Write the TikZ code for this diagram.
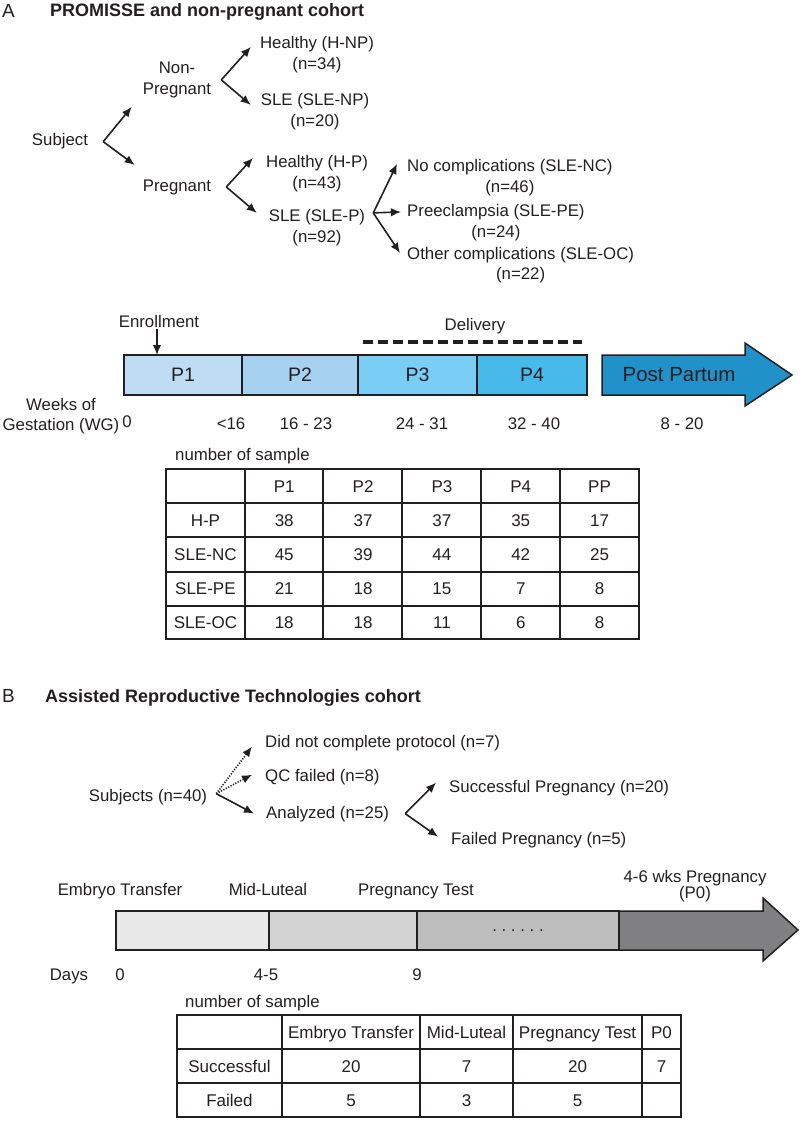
\documentclass[tikz,border=0pt]{standalone}
\usepackage{fontspec}
\setmainfont{Liberation Sans}
\usetikzlibrary{arrows.meta,positioning}

\definecolor{ink}{HTML}{231F20}
\definecolor{pone}{RGB}{190,221,244}
\definecolor{ptwo}{RGB}{166,209,241}
\definecolor{pthree}{RGB}{122,206,245}
\definecolor{pfour}{RGB}{72,186,234}
\definecolor{ppart}{RGB}{32,146,201}
\definecolor{gone}{RGB}{232,232,233}
\definecolor{gtwo}{RGB}{211,211,212}
\definecolor{gthree}{RGB}{189,189,190}
\definecolor{gfour}{RGB}{128,128,130}

\begin{document}
\begin{tikzpicture}
	[
		x=1pt, y=-1pt,
		every node/.style={text=ink, inner sep=2pt},
		txt/.style={font=\fontsize{16.8}{20.5}\selectfont, align=center},
		ttl/.style={font=\fontsize{18}{21}\selectfont\bfseries, anchor=base west},
		panel/.style={font=\fontsize{19}{22}\selectfont, anchor=base west, inner sep=0pt},
		cell/.style={font=\fontsize{17}{20}\selectfont, text height=12.2pt, text depth=0pt},
		seg/.style={draw=ink, line width=1.5pt, minimum height=40pt, inner sep=0pt, outer sep=0pt, font=\fontsize{19.5}{22}\selectfont},
		arrow/.style={-{Latex[length=10pt,width=8.5pt]}, line width=1.6pt, draw=ink},
		dotarrow/.style={arrow, dash pattern=on 1.2pt off 1.5pt},
		tab/.style={draw=ink, line width=1.8pt}
	]
	\useasboundingbox (0,0) rectangle (800,1121);

	% panel A
	\node[panel] (lblA) at (2,18) {A};
	\node[ttl] (ttlA) at (48,17) {PROMISSE and non-pregnant cohort};

	% tree A
	\node[txt, anchor=base] (subj) at (60,146) {Subject};
	\node[txt] (nonpreg) at (177,79.9) {Non-\\Pregnant};
	\node[txt, anchor=base] (preg) at (177,191) {Pregnant};
	\node[txt] (hnp) at (317,54.9) {Healthy (H-NP)\\(n=34)};
	\node[txt] (slenp) at (315,111.9) {SLE (SLE-NP)\\(n=20)};
	\node[txt] (hp) at (317,173.9) {Healthy (H-P)\\(n=43)};
	\node[txt] (slep) at (317,227.9) {SLE (SLE-P)\\(n=92)};
	\node[txt, anchor=west] (slenc) at (405,177.9) {No complications (SLE-NC)\\(n=46)};
	\node[txt, anchor=west] (slepe) at (405,222.9) {Preeclampsia (SLE-PE)\\(n=24)};
	\node[txt, anchor=west] (sleoc) at (405,264.9) {Other complications (SLE-OC)\\(n=22)};

	\coordinate (vsubj) at ([xshift=13pt]subj.east);
	\coordinate (vnonpreg) at ([xshift=8pt]nonpreg.east);
	\coordinate (vpreg) at ([xshift=13pt]preg.east);
	\coordinate (vslep) at ([xshift=6pt,yshift=15pt]slep.east);

	\draw[arrow] (vsubj) -- ([xshift=-9pt,yshift=-27pt]nonpreg.west);
	\draw[arrow] (vsubj) -- ([xshift=-6pt,yshift=22pt]preg.west);
	\draw[arrow] (vnonpreg) -- ([xshift=-7pt,yshift=8pt]hnp.west);
	\draw[arrow] (vnonpreg) -- ([xshift=-8pt,yshift=7pt]slenp.west);
	\draw[arrow] (vpreg) -- ([xshift=-11pt,yshift=16pt]hp.west);
	\draw[arrow] (vpreg) -- ([xshift=-10pt,yshift=15pt]slep.west);
	\draw[arrow] (vslep) -- ([xshift=-8pt,yshift=14pt]slenc.west);
	\draw[arrow] (vslep) -- ([xshift=-4pt,yshift=11pt]slepe.west);
	\draw[arrow] (vslep) -- ([xshift=-5pt,yshift=12pt]sleoc.west);

	% timeline A
	\node[txt, anchor=base] (enroll) at (159,327) {Enrollment};
	\node[seg, fill=pone, minimum width=118pt] (p1) at (183,375) {P1};
	\node[seg, fill=ptwo, minimum width=116pt, right=0pt of p1] (p2) {P2};
	\node[seg, fill=pthree, minimum width=119pt, right=0pt of p2] (p3) {P3};
	\node[seg, fill=pfour, minimum width=110pt, right=0pt of p3] (p4) {P4};
	\draw[arrow] ([xshift=-2pt]enroll.south) -- ([xshift=-2pt]enroll.south |- p1.north);

	\draw[ink, line width=3.5pt, dash pattern=on 10pt off 5pt] ([xshift=5pt,yshift=13pt]p3.north west) -- ([xshift=-5pt,yshift=13pt]p4.north east);
	\node[txt, anchor=base] (deliv) at (475,330) {Delivery};

	\draw[ink, line width=1.5pt, fill=ppart] (602,355) -- (745,355) -- (745,343) -- (792,375) -- (745,406) -- (745,395) -- (602,395) -- cycle;
	\node[font=\fontsize{20.5}{24}\selectfont] (pp) at (679,375) {Post Partum};

	\node[txt] (wg) at (61,415.9) {Weeks of\\Gestation (WG)};
	\node[txt, anchor=base] (wk0) at (127,427) {0};
	\node[txt, anchor=base] (wk1) at (231,429) {<16};
	\node[txt, anchor=base] (wk2) at (306,429) {16 - 23};
	\node[txt, anchor=base] (wk3) at (422,429) {24 - 31};
	\node[txt, anchor=base] (wk4) at (534,429) {32 - 40};
	\node[txt, anchor=base] (wk5) at (682,429) {8 - 20};

	% table A
	\node[txt, anchor=base west] (nsA) at (173,460) {number of sample};
	\draw[tab] (166,469) rectangle (639,639);
	\foreach \x in {245,323,402,481,560}
	\draw[tab] (\x,469) -- (\x,639);
	\foreach \y in {503,537,572,606}
	\draw[tab] (166,\y) -- (639,\y);
	\foreach \lab [count=\c] in {P1,P2,P3,P4,PP}
	\node[cell] (ta-0-\c) at ({166+78.83*(\c+0.5)},486) {\lab};
	\foreach \lab/\va/\vb/\vc/\vd/\ve [count=\r] in {H-P/38/37/37/35/17, SLE-NC/45/39/44/42/25, SLE-PE/21/18/15/7/8, SLE-OC/18/18/11/6/8}
	{
		\node[cell] (ta-\r-0) at (205.4,{469+34*(\r-0.5)+34}) {\lab};
		\foreach \v [count=\c] in {\va,\vb,\vc,\vd,\ve}
		\node[cell] (ta-\r-\c) at ({166+78.83*(\c+0.5)},{469+34*(\r-0.5)+34}) {\v};
	}

	% panel B
	\node[panel] (lblB) at (2,702) {B};
	\node[ttl] (ttlB) at (43,702) {Assisted Reproductive Technologies cohort};

	% tree B
	\node[txt, anchor=base] (subjs) at (148,801) {Subjects (n=40)};
	\node[txt, anchor=base west] (dnc) at (263,747) {Did not complete protocol (n=7)};
	\node[txt, anchor=base west] (qc) at (263,781) {QC failed (n=8)};
	\node[txt, anchor=base west] (anal) at (264,818) {Analyzed (n=25)};
	\node[txt, anchor=base west] (succ) at (447,792) {Successful Pregnancy (n=20)};
	\node[txt, anchor=base west] (fail) at (449,844) {Failed Pregnancy (n=5)};

	\coordinate (vsubjs) at ([xshift=7pt,yshift=3pt]subjs.east);
	\coordinate (vanal) at ([xshift=14pt]anal.east);

	\draw[dotarrow] (vsubjs) -- ([xshift=-11pt,yshift=-4pt]dnc.west);
	\draw[dotarrow] (vsubjs) -- ([xshift=-11pt,yshift=2pt]qc.west);
	\draw[arrow] (vsubjs) -- ([xshift=-10pt]anal.west);
	\draw[arrow] (vanal) -- ([xshift=-11pt,yshift=5pt]succ.west);
	\draw[arrow] (vanal) -- ([xshift=-11pt,yshift=3pt]fail.west);

	% timeline B
	\node[txt, anchor=base] (et) at (120,895) {Embryo Transfer};
	\node[txt, anchor=base] (ml) at (268,895) {Mid-Luteal};
	\node[txt, anchor=base] (pt) at (416,895) {Pregnancy Test};
	\node[txt, font=\fontsize{16.8}{16}\selectfont] (wks) at (695,886.6) {4-6 wks Pregnancy\\(P0)};

	\node[seg, fill=gone, minimum width=153pt, minimum height=39pt] (b1) at (192.5,930.5) {};
	\node[seg, fill=gtwo, minimum width=148pt, minimum height=39pt, right=0pt of b1] (b2) {};
	\node[seg, fill=gthree, minimum width=202pt, minimum height=39pt, right=0pt of b2, font=\fontsize{16.8}{20}\selectfont] (b3) {.\kern4.7pt.\kern4.7pt.\kern4.7pt.\kern4.7pt.\kern4.7pt.};
	\draw[ink, line width=1.5pt, fill=gfour] (619,911) -- (763,911) -- (763,898) -- (798,930) -- (763,961) -- (763,950) -- (619,950) -- cycle;

	\node[txt, anchor=base] (days) at (69,980) {Days};
	\node[txt, anchor=base] (d0) at (120,980) {0};
	\node[txt, anchor=base] (d1) at (266,980) {4-5};
	\node[txt, anchor=base] (d2) at (417,980) {9};

	% table B
	\node[txt, anchor=base west] (nsB) at (183,1007) {number of sample};
	\draw[tab] (177,1015) rectangle (681,1117);
	\foreach \x in {282,420,513,642}
	\draw[tab] (\x,1015) -- (\x,1117);
	\foreach \y in {1049,1083}
	\draw[tab] (177,\y) -- (681,\y);
	\foreach \lab/\cx [count=\c] in {Embryo Transfer/351, Mid-Luteal/466.5, Pregnancy Test/577.5, P0/661.5}
	\node[cell] (tb-0-\c) at (\cx,1032) {\lab};
	\foreach \lab/\va/\vb/\vc/\vd [count=\r] in {Successful/20/7/20/7, Failed/5/3/5/}
	{
		\node[cell] (tb-\r-0) at (229.5,{1032+34*\r}) {\lab};
		\foreach \v/\cx [count=\c] in {\va/351,\vb/466.5,\vc/577.5,\vd/661.5}
		\node[cell] (tb-\r-\c) at (\cx,{1032+34*\r}) {\v};
	}

\end{tikzpicture}
\end{document}
